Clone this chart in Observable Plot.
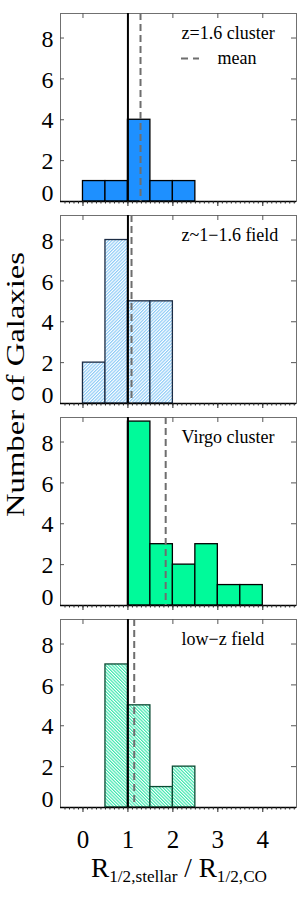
<!DOCTYPE html>
<html><head><meta charset="utf-8">
<script src="https://cdn.jsdelivr.net/npm/d3@7"></script>
<script src="https://cdn.jsdelivr.net/npm/@observablehq/plot@0.6"></script>
<style>
html,body{margin:0;padding:0;background:#fff;}
#chart{position:relative;width:299px;height:897px;overflow:hidden;font-family:"Liberation Serif","Times New Roman",serif;}
#chart svg{position:absolute;left:0;overflow:visible;}
</style></head><body><div id="chart"></div>
<script>
// ---- data ----
const panelNames = ["z=1.6 cluster", "z~1\u22121.6 field", "Virgo cluster", "low\u2212z field"];
const binStarts = [0, 0.5, 1, 1.5, 2, 2.5, 3, 3.5];
const binWidth = 0.5;
const countsCluster16 = [1, 1, 4, 1, 1, 0, 0, 0];
const countsFieldHighZ = [2, 8, 5, 5, 0, 0, 0, 0];
const countsVirgo = [0, 0, 9, 3, 2, 3, 1, 1];
const countsFieldLowZ = [0, 7, 5, 1, 2, 0, 0, 0];
const meanRatios = [1.28, 1.08, 1.84, 1.14];
const unityRatio = [1];
const xTicks = [0, 1, 2, 3, 4];
const xTickLabels = ["0", "1", "2", "3", "4"];
const xMinorTicks = d3.range(-4, 48).map(i => i / 10);
const yTicks = [0, 2, 4, 6, 8];
const yTickLabels = ["0", "2", "4", "6", "8"];
const legendLabel = "mean";
const xLabelParts = ["R", "1/2,stellar", " / R", "1/2,CO"];
const yLabel = "Number of Galaxies";

const allCounts = [countsCluster16, countsFieldHighZ, countsVirgo, countsFieldLowZ];
const styles = [
  {fill: "#1e90ff", stroke: "#000"},
  {fill: "url(#hatchBlue)", stroke: "#1c2c44"},
  {fill: "#00fa9a", stroke: "#000"},
  {fill: "url(#hatchGreen)", stroke: "#0b4a33"}
];
const labelWidths = [96, 101, 97, 86];

const chart = document.getElementById("chart");
const FW = 236, FH = 188, MT = 13, ML = 60, MR = 3;

function addHatch(svg, id, color, angle) {
  const defs = d3.select(svg).insert("defs", ":first-child");
  const p = defs.append("pattern").attr("id", id)
    .attr("patternUnits", "userSpaceOnUse").attr("width", 2.3).attr("height", 2.3)
    .attr("patternTransform", `rotate(${angle})`);
  p.append("rect").attr("width", 2.3).attr("height", 2.3).attr("fill", "#fff");
  p.append("line").attr("x1", 0.6).attr("y1", -1).attr("x2", 0.6).attr("y2", 4)
    .attr("stroke", color).attr("stroke-width", 1.1);
}

allCounts.forEach((counts, k) => {
  const last = k === 3;
  const top = 202 * k;
  const mb = last ? 897 - top - MT - FH : 8;
  const bins = binStarts.map((lo, i) => ({lo, hi: lo + binWidth, n: counts[i]})).filter(d => d.n > 0);
  const marks = [
    Plot.rectY(bins, {x1: "lo", x2: "hi", y1: 0, y2: "n", fill: styles[k].fill, stroke: styles[k].stroke, strokeWidth: 1.3}),
    Plot.frame({stroke: "#707070", strokeWidth: 1}),
    Plot.ruleY([0], {stroke: "#000", strokeWidth: 1.3}),
    Plot.ruleX(xMinorTicks, {insetTop: FH, insetBottom: -2.5, stroke: "#222", strokeWidth: 1}),
    Plot.ruleX(xTicks, {insetTop: FH, insetBottom: -5, stroke: "#222", strokeWidth: 1}),
    Plot.ruleX(xTicks, {insetBottom: FH - 5, stroke: "#555", strokeWidth: 1}),
    Plot.ruleY(yTicks.slice(1), {insetRight: FW - 4, stroke: "#555", strokeWidth: 1}),
    Plot.ruleY(yTicks.slice(1), {insetLeft: FW - 5, stroke: "#555", strokeWidth: 1}),
    Plot.ruleX(unityRatio, {stroke: "#000", strokeWidth: 2}),
    Plot.ruleX([meanRatios[k]], {stroke: "#6e6e6e", strokeWidth: 2, strokeDasharray: "7,4"}),
    Plot.text(yTicks.slice(1), {y: d => d, text: (d, i) => yTickLabels[i + 1], frameAnchor: "left", dx: -7, dy: 1, textAnchor: "end", fontSize: 24}),
    Plot.text(yTicks.slice(0, 1), {y: d => d, text: (d, i) => yTickLabels[i], frameAnchor: "left", dx: -7, dy: -8, textAnchor: "end", fontSize: 24}),
    Plot.text([panelNames[k]], {text: d => d, frameAnchor: "top-left", dx: 121, dy: 25, lineAnchor: "bottom", textAnchor: "start", fontSize: 18, ariaLabel: "panel-label"})
  ];
  if (k === 0) {
    marks.push(
      Plot.ruleY([7], {insetLeft: 121, insetRight: 97, stroke: "#6e6e6e", strokeWidth: 2, strokeDasharray: "7,5"}),
      Plot.text([legendLabel], {text: d => d, frameAnchor: "top-left", dx: 157, dy: 50, lineAnchor: "bottom", textAnchor: "start", fontSize: 18})
    );
  }
  if (last) {
    marks.push(
      Plot.text(xTicks, {x: d => d, text: (d, i) => xTickLabels[i], frameAnchor: "bottom", dy: 40, lineAnchor: "bottom", fontSize: 25})
    );
  }
  const svg = Plot.plot({
    width: 299, height: MT + FH + mb,
    marginTop: MT, marginBottom: mb, marginLeft: ML, marginRight: MR,
    x: {domain: [-0.5, 4.75], axis: null},
    y: {domain: [0, 9.2], axis: null},
    style: {fontFamily: "'Liberation Serif', 'Times New Roman', serif", background: "transparent", overflow: "visible", color: "#000"},
    marks
  });
  if (k === 1) addHatch(svg, "hatchBlue", "#86c8f6", 45);
  if (k === 3) addHatch(svg, "hatchGreen", "#2ee6a8", -45);
  d3.select(svg).selectAll('g[aria-label="panel-label"] text')
    .attr("textLength", labelWidths[k]).attr("lengthAdjust", "spacingAndGlyphs");
  svg.style.top = top + "px";
  chart.appendChild(svg);
});

// axis titles overlay
const ov = d3.create("svg").attr("width", 299).attr("height", 897)
  .style("top", "0px").style("pointer-events", "none")
  .attr("font-family", "'Liberation Serif', 'Times New Roman', serif");
ov.append("text").attr("transform", "translate(24,384.5) rotate(-90)")
  .attr("text-anchor", "middle").attr("font-size", 26)
  .attr("textLength", 265).attr("lengthAdjust", "spacingAndGlyphs")
  .text(yLabel);
const xl = ov.append("text").attr("x", 179).attr("y", 876.7).attr("text-anchor", "middle")
  .attr("font-size", 27).attr("textLength", 176).attr("lengthAdjust", "spacingAndGlyphs");
xl.append("tspan").text(xLabelParts[0]);
xl.append("tspan").attr("font-size", 17).attr("dy", 5).text(xLabelParts[1]);
xl.append("tspan").attr("dy", -5).text(xLabelParts[2]);
xl.append("tspan").attr("font-size", 17).attr("dy", 5).text(xLabelParts[3]);
chart.appendChild(ov.node());
</script></body></html>
